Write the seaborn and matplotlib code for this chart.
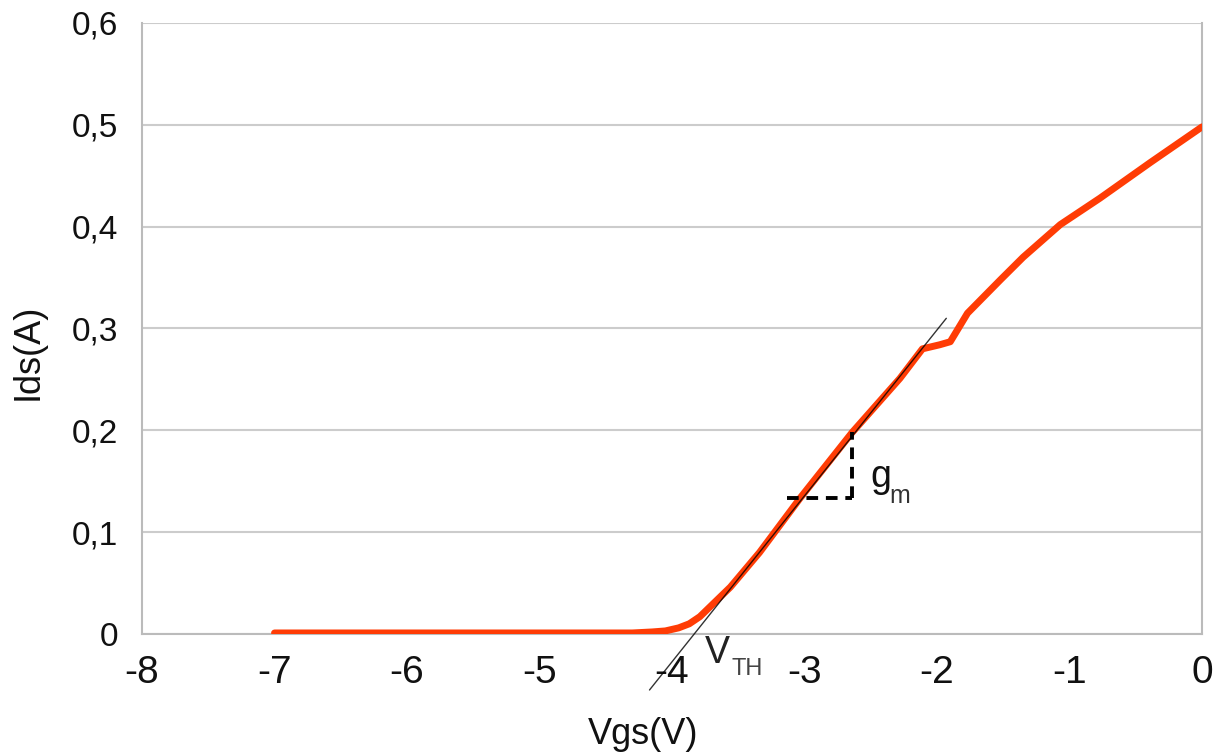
import matplotlib
matplotlib.use("Agg")
import matplotlib.pyplot as plt
import matplotlib.ticker as mticker
import seaborn as sns
import pandas as pd

# ---- data ----
vgs = [-7.0, -6.0, -5.0, -4.3, -4.15, -4.05, -3.95, -3.87, -3.79, -3.56, -3.34,
       -3.03, -2.64, -2.28, -2.11, -1.98, -1.90, -1.77, -1.52, -1.35, -1.07,
       -0.77, -0.39, 0.0]
ids = [0.001, 0.001, 0.001, 0.001, 0.002, 0.003, 0.006, 0.010, 0.017, 0.046, 0.080,
       0.134, 0.198, 0.251, 0.280, 0.284, 0.287, 0.315, 0.348, 0.370, 0.402,
       0.428, 0.463, 0.498]
tangent_v = [-4.17, -1.93]
tangent_i = [-0.055, 0.310]
gm_h_v = [-3.13, -2.64]
gm_h_i = [0.134, 0.134]
gm_v_v = [-2.64, -2.64]
gm_v_i = [0.134, 0.198]
x_ticks = [-8, -7, -6, -5, -4, -3, -2, -1, 0]
y_ticks = [0, 0.1, 0.2, 0.3, 0.4, 0.5, 0.6]

sns.set_style("white")
plt.rcParams['font.family'] = ['Liberation Sans', 'DejaVu Sans']

fig = plt.figure(figsize=(12.17, 7.56), dpi=100)
ax = fig.add_axes([0.1167, 0.1614, 0.871, 0.8082])

df = pd.DataFrame({"Vgs": vgs, "Ids": ids})
sns.lineplot(data=df, x="Vgs", y="Ids", ax=ax, color="#ff3c05", linewidth=5.0,
             zorder=3)
ax.plot(tangent_v, tangent_i, color="black", linewidth=1.0, alpha=0.8,
        clip_on=False, zorder=4)
ax.plot(gm_h_v, gm_h_i, color="black", linewidth=2.8, linestyle=(0, (3, 2)), zorder=5)
ax.plot(gm_v_v, gm_v_i, color="black", linewidth=2.8, linestyle=(0, (3, 2)), zorder=5)

ax.text(-2.506, 0.144, "g", fontsize=27, ha="left", va="baseline", color="#111111")
ax.text(-2.36, 0.129, "m", fontsize=18, ha="left", va="baseline", color="#333333")
ax.text(-3.751, -0.0285, "V", fontsize=27, ha="left", va="baseline", color="#222222",
        clip_on=False)
ax.text(-3.55, -0.0403, "TH", fontsize=17, ha="left", va="baseline", color="#444444",
        clip_on=False)

ax.set_xlim(-8, 0)
ax.set_ylim(0, 0.6)
ax.set_xticks(x_ticks)
ax.set_yticks(y_ticks)
ax.yaxis.set_major_formatter(mticker.FuncFormatter(
    lambda v, p: ("0" if abs(v) < 1e-9 else f"{v:.1f}".replace(".", ","))))
ax.xaxis.set_major_formatter(mticker.FuncFormatter(lambda v, p: f"{int(round(v))}"))
ax.tick_params(axis="y", labelsize=24, colors="#111111", length=11, color="#bbbbbb",
               width=1.5, pad=6)
ax.tick_params(axis="x", labelsize=28, colors="#111111", length=8, color="#bbbbbb",
               width=1.5, pad=7)
ax.yaxis.grid(True, color="#cccccc", linewidth=1.5)
ax.xaxis.grid(False)
for s in ["left", "right", "bottom"]:
    ax.spines[s].set_color("#bbbbbb")
    ax.spines[s].set_linewidth(1.5)
ax.spines["top"].set_visible(False)

ax.set_xlabel("Vgs(V)", fontsize=26, color="#111111")
ax.set_ylabel("Ids(A)", fontsize=26, color="#111111")
ax.xaxis.label.set_verticalalignment("center")
ax.yaxis.label.set_verticalalignment("center")
ax.xaxis.set_label_coords(0.4726, -0.165)
ax.yaxis.set_label_coords(-0.1075, 0.4615)

fig.savefig("out.png", dpi=100)
